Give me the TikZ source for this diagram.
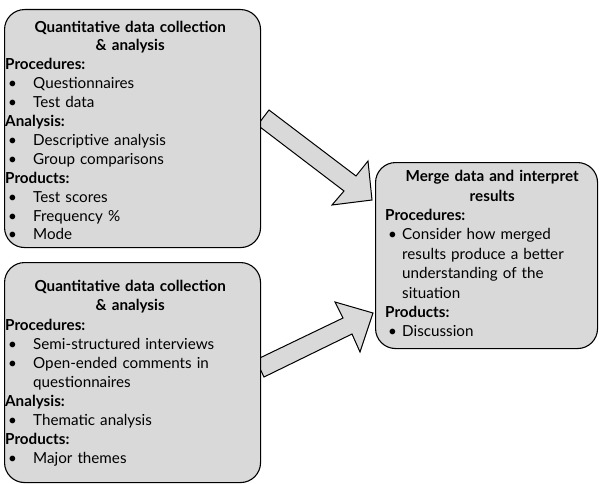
\documentclass[tikz,border=0pt]{standalone}
\usepackage{fontspec}
\setmainfont{Lato}
\usetikzlibrary{calc}
\definecolor{boxgray}{HTML}{D9D9D9}
\newcommand{\hd}[1]{\par\noindent\textbf{#1}}
\newcommand{\itmw}{28pt}
\newcommand{\itm}[1]{\par\noindent\hangindent=\itmw\hangafter=1\makebox[\itmw][l]{\hspace{3pt}•}#1}
\newcommand{\ttl}[1]{\par{\centering\bfseries #1\par}}
\tikzset{
  box/.style={draw=black, line width=1.1pt, fill=boxgray, rounded corners=20pt, inner sep=0pt},
  txt/.style={inner sep=0pt, align=left, font=\fontsize{15.2pt}{18.9pt}\selectfont},
  blockarrow/.style={draw=black, line width=1pt, fill=boxgray, line join=miter}
}
\begin{document}
\begin{tikzpicture}[x=1pt,y=-1pt]
\useasboundingbox (0,0) rectangle (599,484);
% block arrows (drawn first, boxes cover their tails)
\coordinate (a1t) at (372,200);
\filldraw[blockarrow] (269,110) -- (356,176) -- (368,161) -- (a1t) -- (332,205) -- (344,191) -- (257.5,125.1) -- cycle;
\coordinate (a2t) at (373,313);
\filldraw[blockarrow] (255.8,359.9) -- (343,318) -- (335,302) -- (a2t) -- (360,352) -- (352,334) -- (264,377) -- cycle;
% boxes
\node[box, minimum width=256pt, minimum height=238pt, anchor=north west] (q1) at (4,9) {};
\node[box, minimum width=256pt, minimum height=220pt, anchor=north west] (q2) at (4,262) {};
\node[box, minimum width=222pt, minimum height=186pt, anchor=north west] (m) at (375,162) {};
% texts
\node[txt, text width=250pt, anchor=north west] (t1) at ($(q1.north west)+(1,4)$) {%
\ttl{Quantitative data collection\\ \& analysis}
\hd{Procedures:}
\itm{Questionnaires}
\itm{Test data}
\hd{Analysis:}
\itm{Descriptive analysis}
\itm{Group comparisons}
\hd{Products:}
\itm{Test scores}
\itm{Frequency \%}
\itm{Mode}};
\node[txt, text width=250pt, anchor=north west] (t2) at ($(q2.north west)+(1,10)$) {%
\ttl{Quantitative data collection\\ \& analysis}\vspace{2pt}
\hd{Procedures:}
\itm{Semi-structured interviews}
\itm{Open-ended comments in\newline questionnaires}
\hd{Analysis:}
\itm{Thematic analysis}
\hd{Products:}
\itm{Major themes}};
\renewcommand{\itmw}{17pt}
\node[txt, text width=214pt, anchor=north west, font=\fontsize{15.2pt}{19.4pt}\selectfont] (t3) at ($(m.north west)+(10,0)$) {%
\ttl{Merge data and interpret\\ results}
\hd{Procedures:}
\itm{Consider how merged\newline results produce a better\newline understanding of the\newline situation}
\hd{Products:}
\itm{Discussion}};
\end{tikzpicture}
\end{document}
